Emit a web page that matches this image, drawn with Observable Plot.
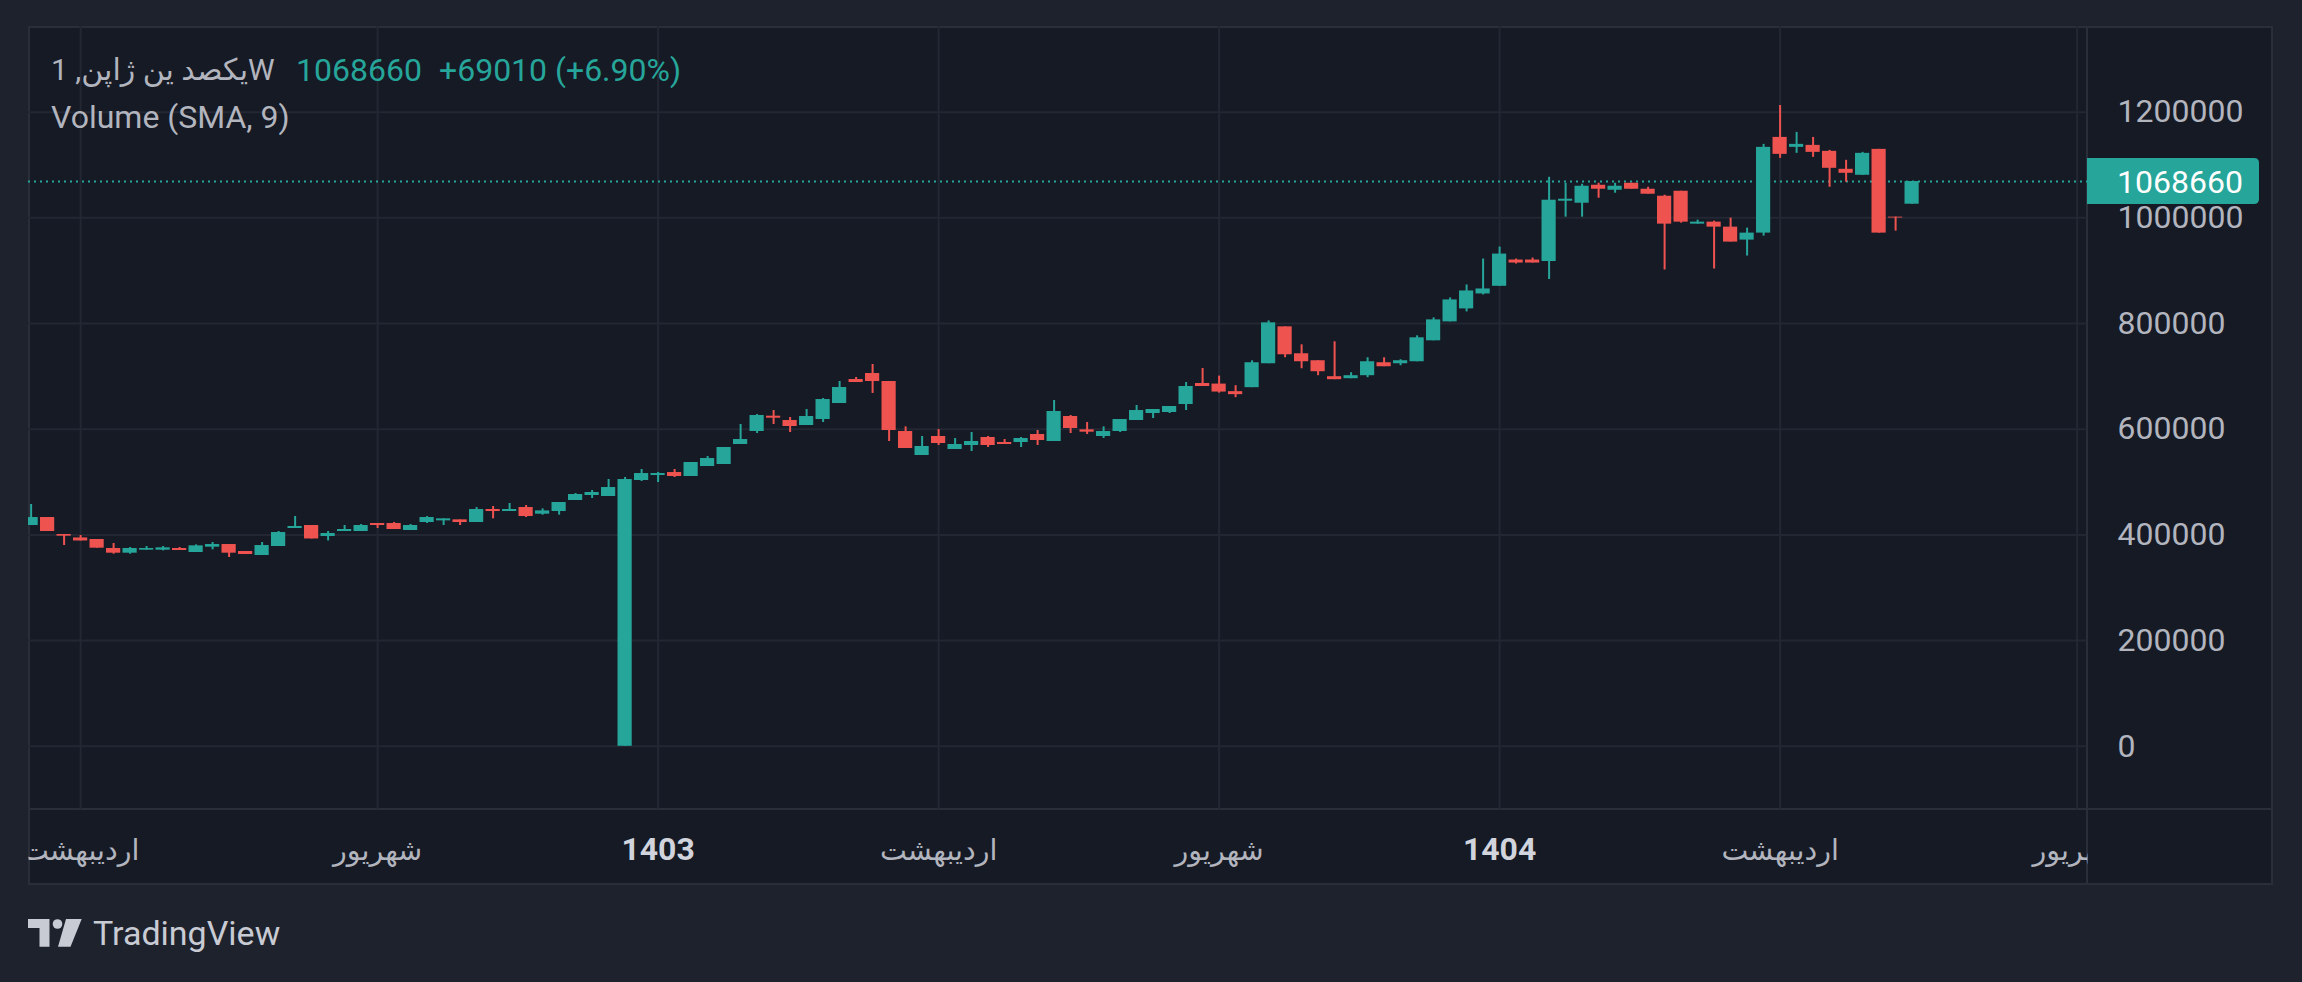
<!DOCTYPE html>
<html>
<head>
<meta charset="utf-8">
<script src="https://cdn.jsdelivr.net/npm/d3@7"></script>
<script src="https://cdn.jsdelivr.net/npm/@observablehq/plot@0.6"></script>
<style>
  html, body { margin: 0; padding: 0; background: #1e222d; }
  #wrap { position: relative; width: 2302px; height: 982px; overflow: hidden; font-family: Roboto, "DejaVu Sans", sans-serif; }
  #panel { position: absolute; left: 28px; top: 26px; width: 2245px; height: 859px; background: #161a25; box-sizing: border-box; border: 2px solid #2a2e39; }
  .sep { position: absolute; background: #2a2e39; }
  #chart { position: absolute; left: 0; top: 0; }
  .ttl { position: absolute; font-size: 32px; line-height: 32px; white-space: nowrap; direction: ltr; }
  #logo { position: absolute; left: 0; top: 0; }
  #tvtext { position: absolute; left: 93px; top: 913px; font-size: 34px; line-height: 40px; color: #c8cbd3; }
</style>
</head>
<body>
<div id="wrap">
  <div id="panel"></div>
  <div class="sep" style="left:2086px; top:26px; width:2px; height:859px;"></div>
  <div class="sep" style="left:28px; top:808px; width:2245px; height:2px;"></div>
  <div id="chart"></div>
  <div class="ttl" style="left:51px; top:55px; font-size:30px; line-height:30px; color:#b2b5be;">یکصد ین ژاپن, 1W</div>
  <div class="ttl" style="left:296px; top:54px; color:#26a69a;">1068660</div>
  <div class="ttl" style="left:439px; top:54px; color:#26a69a;">+69010 (+6.90%)</div>
  <div class="ttl" style="left:51px; top:101px; color:#b2b5be;">Volume (SMA, 9)</div>
  <svg id="logo" width="120" height="982">
    <path d="M28 919 H49.5 V946.7 H39.5 V928 H28 Z" fill="#c8cbd3"/>
    <circle cx="57.5" cy="924" r="4.8" fill="#c8cbd3"/>
    <path d="M66 919 H81.7 L70.5 946.7 H58 Z" fill="#c8cbd3"/>
  </svg>
  <div id="tvtext">TradingView</div>
</div>
<script>
// Weekly candles (index-based time axis, as in the source chart)
const opens  = [417780,432910,400740,394230,391290,374260,365430,371110,371110,374260,
                366690,376780,381810,368590,361020,378040,412110,417780,396960,406420,
                406420,421560,421560,408320,423450,426600,428490,423450,448050,444270,
                451830,439230,444270,465080,474550,472660,0,502920,512380,518050,
                510490,529410,533230,571040,595660,624660,616460,607010,618350,648630,
                694040,705400,690260,595660,550260,586210,561600,569180,584320,574850,
                574850,590000,576740,624030,598780,586210,595660,616460,629720,631610,
                646740,686480,685400,671070,678620,723900,793710,742770,729560,699380,
                695610,701270,725790,723900,727680,767300,803140,827670,855970,870430,
                920120,920120,917300,1031450,1027670,1061630,1052200,1065410,1054090,1040880,
                1050310,988050,991820,982390,957860,971070,1152190,1133330,1137100,1125780,
                1091820,1080500,1129550,1001260,1025780];
const highs  = [457510,432910,400740,398850,391290,383700,376150,378040,378040,376150,
                381180,385590,381810,368590,385590,406420,434800,417780,406420,417780,
                419670,421560,423450,419670,434800,430390,428490,451830,453720,459400,
                455610,449310,461300,478330,484000,504810,508600,523730,518050,523730,
                536980,548330,565380,608910,627820,635390,622140,637280,658090,690260,
                697830,722420,690260,604480,586210,599410,582430,593760,586210,580500,
                584320,597550,654300,625930,612670,604480,618350,644850,637280,642960,
                688370,714850,700500,682400,729560,805030,793710,759750,729560,765410,
                706920,735220,735220,731440,776730,810690,848420,872950,922010,944650,
                922010,923890,1076730,1065410,1063520,1065410,1065410,1065410,1057860,1042770,
                1050310,995600,993710,999370,980500,1138990,1212570,1161630,1152190,1127670,
                1108800,1123890,1129550,1001260,1068660];
const lows   = [417780,406420,379920,388550,374890,363540,363540,371110,369850,370480,
                366690,371740,357230,362910,361020,378040,412110,392340,388550,406420,
                406420,412110,410210,408320,421560,417780,417780,423450,430390,444270,
                432910,437340,437340,465080,468870,472660,0,501030,499140,508600,
                510490,529410,533230,571040,591870,608910,593760,607010,612670,648630,
                688370,667710,576740,563490,550260,569180,561600,557820,565380,571040,
                565380,569180,576740,591870,590000,582430,593760,616460,620250,629720,
                635390,680800,668300,659750,678620,723900,735220,714400,701270,693720,
                695610,697490,718240,720130,727680,767300,803140,822010,854080,870430,
                912570,914460,883300,1001260,1001260,1037110,1046540,1054090,1044650,901260,
                989940,988050,903150,954090,927680,965410,1112570,1122010,1114460,1057860,
                1067290,1080500,971070,974840,1025780];
const closes = [432910,406420,397590,388550,374890,365430,374260,374260,375520,370480,
                379290,381810,365430,362910,379920,404510,415890,392340,402640,410210,
                417780,417780,410210,417780,432910,430390,423450,448050,444270,448050,
                434800,445430,461300,476440,480220,489680,504810,516160,516160,510490,
                536980,544550,565380,580500,625930,620880,605110,624030,656190,678900,
                688370,690260,597550,563490,567290,572970,571040,576740,569180,571040,
                582430,578620,633500,601330,594400,595660,618350,635390,637280,642960,
                680800,680800,670300,665410,725790,801260,740880,727680,708810,693720,
                701270,727680,718240,729560,772960,806920,844650,861630,865400,931440,
                914460,914460,1033330,1035220,1059750,1054090,1059750,1054090,1044650,988050,
                991820,991820,982390,954090,971070,1133330,1120120,1138990,1123890,1093710,
                1084270,1122010,971070,999650,1068660];

// Axis ticks
const yTicks = [0, 200000, 400000, 600000, 800000, 1000000, 1200000];
const monthTickIdx = [3, 21, 55, 72, 106, 124];
const monthTickLabels = ["اردیبهشت", "شهریور", "اردیبهشت", "شهریور", "اردیبهشت", "شهریور"];
const yearTickIdx = [38, 89];
const yearTickLabels = ["1403", "1404"];
const lastPrice = 1068660;

const UP = "#26a69a", DOWN = "#ef5350", GRID = "#232733", TXT = "#b2b5be";
const FONT = "Roboto, 'DejaVu Sans', sans-serif";

const candles = opens.map((o, i) => ({
  i, open: o, high: highs[i], low: lows[i], close: closes[i],
  dir: closes[i] >= o ? "up" : "down"
}));
const allTickIdx = monthTickIdx.concat(yearTickIdx);

const chart = Plot.plot({
  width: 2302,
  height: 982,
  marginLeft: 28,
  marginRight: 215,
  marginTop: 26,
  marginBottom: 173,
  style: { background: "transparent", color: TXT, fontFamily: FONT, fontSize: "32px" },
  x: { type: "linear", domain: [-0.158, 124.63] },
  y: { domain: [-119590, 1362040] },
  color: { domain: ["up", "down"], range: [UP, DOWN] },
  marks: [
    Plot.gridY(yTicks, { stroke: GRID, strokeOpacity: 1, strokeWidth: 2 }),
    Plot.gridX(allTickIdx, { stroke: GRID, strokeOpacity: 1, strokeWidth: 2 }),
    Plot.ruleY([lastPrice], { stroke: UP, strokeWidth: 2, strokeDasharray: "2,4" }),
    Plot.ruleX(candles, { x: "i", y1: "low", y2: "high", stroke: "dir", strokeWidth: 2, clip: true }),
    Plot.rect(candles, { x1: d => d.i - 0.43, x2: d => d.i + 0.43, y1: "open", y2: "close", fill: "dir", clip: true }),
    Plot.axisY(yTicks, { anchor: "right", tickSize: 0, tickPadding: 30, tickFormat: d => d3.format("d")(d), fill: TXT, fontSize: 32, label: null }),
    Plot.axisX(monthTickIdx, { anchor: "bottom", tickSize: 0, tickPadding: 30, tickFormat: d => monthTickLabels[monthTickIdx.indexOf(d)], fill: TXT, fontSize: 28.5, label: null }),
    Plot.axisX(yearTickIdx, { anchor: "bottom", tickSize: 0, tickPadding: 28, tickFormat: d => yearTickLabels[yearTickIdx.indexOf(d)], fill: "#d1d4dc", fontSize: 32, fontWeight: "bold", label: null })
  ]
});
document.getElementById("chart").appendChild(chart);

// clip x-axis labels to the plot's horizontal extent
const svg = d3.select(chart);
const x = chart.scale("x"), y = chart.scale("y");
const left = x.range[0], right = x.range[1];
svg.insert("defs", ":first-child").append("clipPath").attr("id", "xclip")
  .append("rect").attr("x", left).attr("y", 0).attr("width", right - left).attr("height", 982);
svg.selectAll('g[aria-label="x-axis tick label"]').attr("clip-path", "url(#xclip)");

// last-price label on the price scale
const py = y.apply(lastPrice);
const bw = 172, bh = 46, r = 5;
svg.append("path")
  .attr("d", `M${right},${py - bh / 2} H${right + bw - r} Q${right + bw},${py - bh / 2} ${right + bw},${py - bh / 2 + r} V${py + bh / 2 - r} Q${right + bw},${py + bh / 2} ${right + bw - r},${py + bh / 2} H${right} Z`)
  .attr("fill", UP);
svg.append("text")
  .attr("x", right + 30).attr("y", py)
  .attr("dy", "0.36em")
  .attr("text-anchor", "start")
  .attr("fill", "#ffffff")
  .attr("font-family", FONT).attr("font-size", 32)
  .text(d3.format("d")(lastPrice));
</script>
</body>
</html>
